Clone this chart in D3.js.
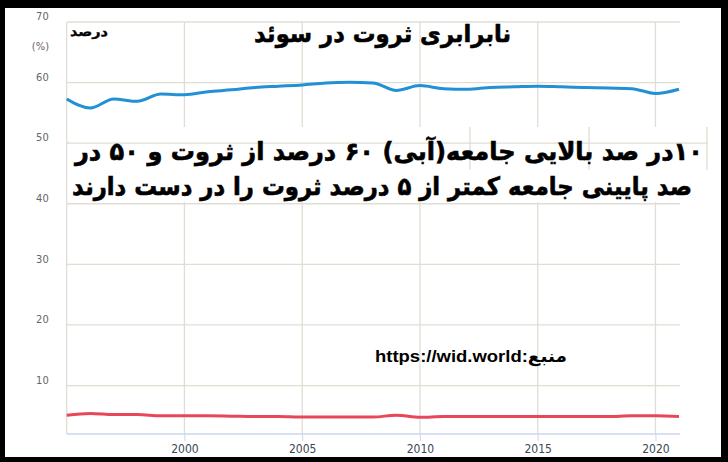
<!DOCTYPE html>
<html>
<head>
<meta charset="utf-8">
<script src="https://cdn.jsdelivr.net/npm/d3@7"></script>
<style>
  body { margin: 0; background: #000; }
  svg { display: block; }
</style>
</head>
<body>
<svg id="chart" width="728" height="462"></svg>
<script>
// chart values
let years = [1995, 1996, 1997, 1998, 1999, 2000, 2001, 2002, 2003, 2004, 2005, 2006, 2007,
    2008, 2009, 2010, 2011, 2012, 2013, 2014, 2015, 2016, 2017, 2018, 2019, 2020, 2021]
let top10 = [57.3, 55.8, 57.3, 56.9, 58.1, 58.0, 58.5, 58.8, 59.2, 59.4, 59.6, 59.95, 60.05,
    59.95, 58.7, 59.5, 59.0, 58.9, 59.2, 59.3, 59.4, 59.3, 59.2, 59.1, 59.0, 58.2, 58.9]
let bottom50 = [5.1, 5.4, 5.2, 5.2, 5.0, 5.0, 5.0, 4.95, 4.9, 4.9, 4.8, 4.8, 4.8,
    4.8, 5.1, 4.75, 4.9, 4.9, 4.9, 4.9, 4.9, 4.9, 4.9, 4.9, 5.0, 5.0, 4.9]
let y_ticks = [10, 20, 30, 40, 50, 60, 70]
let x_ticks = [2000, 2005, 2010, 2015, 2020]

let title = 'نابرابری ثروت در سوئد'
let unit_label = 'درصد'
let note_line1 = '۱۰در صد بالایی جامعه(آبی) ۶۰ درصد از ثروت و  ۵۰ در'
let note_line2 = 'صد پایینی جامعه کمتر از  ۵ درصد ثروت را در دست دارند'
let source = 'https://wid.world:منبع'

let plot_l = 66.7
let plot_r = 680
let plot_t = 22
let plot_b = 434
let grid_color = '#e0ded3'
let axis_color = '#ccd6eb'
let fa_font = '"DejaVu Sans", sans-serif'
let tick_font = '"DejaVu Sans Condensed", "DejaVu Sans", sans-serif'

let svg = d3.select('#chart')

// white page inside the black frame
svg.append('rect')
    .attr('x', 5).attr('y', 8)
    .attr('width', 716).attr('height', 449)
    .attr('fill', '#fff')

let x = d3.scaleLinear().domain([1995, 2021]).range([plot_l, 679])
let y = d3.scaleLinear().domain([2, 70]).range([plot_b, plot_t])

// horizontal grid
svg.append('g')
    .selectAll('line')
    .data(y_ticks)
    .join('line')
    .attr('x1', plot_l).attr('x2', plot_r)
    .attr('y1', d => y(d)).attr('y2', d => y(d))
    .attr('stroke', grid_color)
    .attr('stroke-width', 1.3)

// vertical grid, left edge included
svg.append('g')
    .selectAll('line')
    .data([1995].concat(x_ticks))
    .join('line')
    .attr('x1', d => x(d)).attr('x2', d => x(d))
    .attr('y1', plot_t).attr('y2', plot_b)
    .attr('stroke', grid_color)
    .attr('stroke-width', 1.3)

// bottom axis
let x_axis = d3.axisBottom(x)
    .tickValues(x_ticks)
    .tickFormat(d3.format('d'))
    .tickSize(7)
    .tickPadding(3)

let gx = svg.append('g')
    .attr('transform', `translate(0, ${plot_b})`)
    .call(x_axis)
gx.select('.domain').remove()
gx.append('line')
    .attr('x1', plot_l).attr('x2', plot_r)
    .attr('stroke', axis_color)
    .attr('stroke-width', 1.5)
gx.selectAll('.tick line').attr('stroke', axis_color)
gx.selectAll('.tick text')
    .attr('fill', '#3a4652')
    .style('font-family', tick_font)
    .style('font-size', '12px')

// left axis labels sit above their grid lines
let y_axis = d3.axisLeft(y)
    .tickValues(y_ticks)
    .tickSize(0)
    .tickPadding(18)

let gy = svg.append('g')
    .attr('transform', `translate(${plot_l}, 0)`)
    .call(y_axis)
gy.select('.domain').remove()
gy.selectAll('.tick text')
    .attr('dy', '-0.2em')
    .attr('fill', '#666')
    .style('font-family', tick_font)
    .style('font-size', '11px')

svg.append('text')
    .attr('x', 49).attr('y', 50)
    .attr('text-anchor', 'end')
    .attr('fill', '#666')
    .style('font-family', tick_font)
    .style('font-size', '11px')
    .text('(%)')

// series
let line = d3.line()
    .x((d, i) => x(years[i]))
    .y(d => y(d))
    .curve(d3.curveMonotoneX)

svg.append('path')
    .datum(top10)
    .attr('d', line)
    .attr('fill', 'none')
    .attr('stroke', '#2190d4')
    .attr('stroke-width', 3)

svg.append('path')
    .datum(bottom50)
    .attr('d', line)
    .attr('fill', 'none')
    .attr('stroke', '#e8475a')
    .attr('stroke-width', 3)

// pasted note box over the grid
svg.append('rect')
    .attr('x', 69).attr('y', 127)
    .attr('width', 643).attr('height', 75)
    .attr('fill', '#fff')
svg.append('line')
    .attr('x1', plot_l).attr('x2', 708)
    .attr('y1', y(50)).attr('y2', y(50))
    .attr('stroke', grid_color)
    .attr('stroke-width', 1.3)
svg.append('g')
    .selectAll('line')
    .data([470, 589, 707])
    .join('line')
    .attr('x1', d => d).attr('x2', d => d)
    .attr('y1', 127).attr('y2', 170)
    .attr('stroke', grid_color)
    .attr('stroke-width', 1.3)

// texts
function fa_text(str, xr, yb, size, len) {
    return svg.append('text')
        .attr('x', xr).attr('y', yb)
        .attr('direction', 'rtl')
        .attr('text-anchor', 'start')
        .attr('textLength', len)
        .attr('lengthAdjust', 'spacingAndGlyphs')
        .attr('fill', '#000')
        .attr('stroke', '#000')
        .attr('stroke-width', size / 40)
        .style('font-family', fa_font)
        .style('font-weight', 'bold')
        .style('font-size', size + 'px')
        .text(str)
}

fa_text(title, 511, 42, 24, 257)
fa_text(unit_label, 108, 36, 13, 38)
fa_text(note_line1, 703, 160, 25, 628)
fa_text(note_line2, 692, 195, 25, 620)

svg.append('text')
    .attr('x', 375).attr('y', 362)
    .attr('textLength', 192)
    .attr('lengthAdjust', 'spacingAndGlyphs')
    .attr('fill', '#000')
    .style('font-family', '"Liberation Sans", "DejaVu Sans", sans-serif')
    .style('font-weight', 'bold')
    .style('font-size', '17px')
    .text(source)
</script>
</body>
</html>
